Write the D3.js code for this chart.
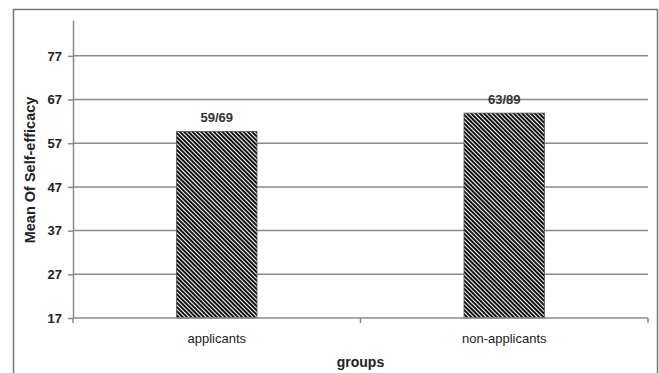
<!DOCTYPE html>
<meta charset="utf-8">
<title>Mean Of Self-efficacy by group</title>
<style>
  body { margin: 0; background: #fff; }
  svg { display: block; font-family: "Liberation Sans", Arial, sans-serif; }
  .grid line { stroke: #8a8a8a; stroke-width: 1.5px; }
  .axis path, .axis line { stroke: #8a8a8a; stroke-width: 1.5px; }
  .axis text { fill: #222; font-size: 13px; }
</style>
<body>
<svg width="659" height="373"></svg>
<script src="https://cdn.jsdelivr.net/npm/d3@7"></script>
<script>
  // data
  var groups = ["applicants", "non-applicants"];
  var means = [59.69, 63.89];
  var labels = ["59/69", "63/89"];
  var yTicks = [17, 27, 37, 47, 57, 67, 77];

  const svg = d3.select("svg");
  const margin = { left: 73, right: 11, top: 20, bottom: 55 };
  const width = 659, height = 373;

  // outer frame
  svg.append("rect")
    .attr("x", 13.5).attr("y", 9.5)
    .attr("width", 644).attr("height", 380)
    .attr("fill", "none")
    .attr("stroke", "#777")
    .attr("stroke-width", 1.5);

  const x = d3.scaleBand()
    .domain(groups)
    .range([margin.left, width - margin.right])
    .paddingInner(0.72)
    .paddingOuter(0.36);

  const y = d3.scaleLinear()
    .domain([17, 85.2])
    .range([height - margin.bottom, margin.top]);

  // hatch pattern for the bars (lines run top-left to bottom-right)
  const defs = svg.append("defs");
  const pat = defs.append("pattern")
    .attr("id", "hatch")
    .attr("patternUnits", "userSpaceOnUse")
    .attr("width", 3).attr("height", 3)
    .attr("patternTransform", "rotate(-45)");
  pat.append("rect").attr("width", 3).attr("height", 3).attr("fill", "#fff");
  pat.append("rect").attr("width", 2).attr("height", 3).attr("fill", "#111");

  // gridlines
  svg.append("g")
    .attr("class", "grid")
    .selectAll("line")
    .data(yTicks.slice(1))
    .enter().append("line")
    .attr("x1", margin.left)
    .attr("x2", width - margin.right)
    .attr("y1", d => y(d))
    .attr("y2", d => y(d));

  // bars
  svg.selectAll(".bar")
    .data(groups)
    .enter().append("rect")
    .attr("class", "bar")
    .attr("x", d => x(d))
    .attr("width", x.bandwidth())
    .attr("y", (d, i) => y(means[i]))
    .attr("height", (d, i) => y(17) - y(means[i]))
    .attr("fill", "url(#hatch)")
    .attr("stroke", "#555")
    .attr("stroke-width", 0.8);

  // value labels
  svg.selectAll(".vlabel")
    .data(groups)
    .enter().append("text")
    .attr("class", "vlabel")
    .attr("x", d => x(d) + x.bandwidth() / 2)
    .attr("y", (d, i) => y(means[i]) - 9)
    .attr("text-anchor", "middle")
    .style("font-size", "13px")
    .style("font-weight", "bold")
    .style("fill", "#333")
    .text((d, i) => labels[i]);

  // y axis
  const yAxis = svg.append("g")
    .attr("class", "axis")
    .attr("transform", `translate(${margin.left},0)`)
    .call(d3.axisLeft(y).tickValues(yTicks).tickSize(5).tickPadding(6).tickSizeOuter(0));
  yAxis.selectAll("text").style("font-weight", "bold");

  // x axis with ticks between categories
  const xAxisG = svg.append("g")
    .attr("class", "axis")
    .attr("transform", `translate(0,${y(17)})`);
  xAxisG.append("line")
    .attr("x1", margin.left).attr("x2", width - margin.right)
    .attr("y1", 0).attr("y2", 0);
  const xTickPos = [margin.left, margin.left + (width - margin.left - margin.right) / 2, width - margin.right];
  xAxisG.selectAll(".xt")
    .data(xTickPos)
    .enter().append("line")
    .attr("x1", d => d).attr("x2", d => d)
    .attr("y1", 0).attr("y2", 5);
  xAxisG.selectAll(".xl")
    .data(groups)
    .enter().append("text")
    .attr("x", d => x(d) + x.bandwidth() / 2)
    .attr("y", 25)
    .attr("text-anchor", "middle")
    .style("font-size", "13px")
    .text(d => d);

  // axis titles
  svg.append("text")
    .attr("x", (margin.left + width - margin.right) / 2)
    .attr("y", 367)
    .attr("text-anchor", "middle")
    .style("font-size", "14px")
    .style("font-weight", "bold")
    .style("fill", "#222")
    .text("groups");

  svg.append("text")
    .attr("transform", "translate(35,170) rotate(-90)")
    .attr("text-anchor", "middle")
    .style("font-size", "14.5px")
    .style("font-weight", "bold")
    .style("fill", "#222")
    .text("Mean Of Self-efficacy");
</script>
</body>
